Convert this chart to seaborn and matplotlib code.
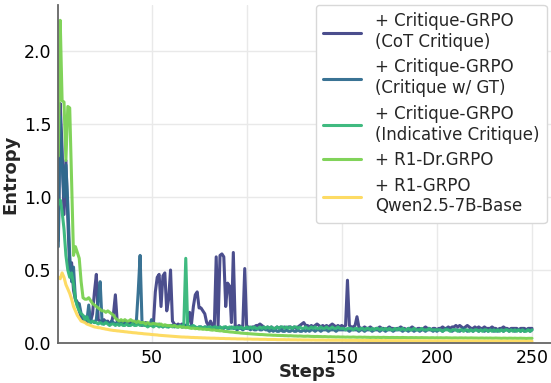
import matplotlib
matplotlib.use("Agg")
import matplotlib.pyplot as plt
import seaborn as sns
import pandas as pd
import numpy as np

steps = list(range(1, 251))

labels = ["+ Critique-GRPO\n(CoT Critique)",
          "+ Critique-GRPO\n(Critique w/ GT)",
          "+ Critique-GRPO\n(Indicative Critique)",
          "+ R1-Dr.GRPO",
          "+ R1-GRPO\nQwen2.5-7B-Base"]

colors = ["#414487", "#2f6b8e", "#35b779", "#7ad151", "#fdd95c"]

cot_critique = [
 0.70,1.64,1.33,0.88,1.25,0.85,0.50,0.55,0.36,0.30,
 0.28,0.22,0.18,0.16,0.15,0.14,0.16,0.15,0.20,0.35,
 0.47,0.16,0.15,0.14,0.16,0.14,0.15,0.13,0.14,0.20,
 0.33,0.14,0.13,0.14,0.13,0.15,0.14,0.13,0.14,0.13,
 0.14,0.13,0.14,0.13,0.12,0.13,0.14,0.12,0.13,0.12,
 0.13,0.35,0.45,0.47,0.25,0.46,0.48,0.22,0.30,0.50,
 0.15,0.13,0.12,0.13,0.12,0.13,0.12,0.12,0.13,0.21,
 0.13,0.25,0.33,0.35,0.24,0.24,0.22,0.20,0.14,0.12,
 0.15,0.12,0.11,0.59,0.12,0.60,0.61,0.59,0.25,0.41,
 0.39,0.14,0.62,0.12,0.11,0.12,0.11,0.12,0.51,0.11,
 0.11,0.10,0.11,0.11,0.12,0.12,0.13,0.12,0.11,0.10,
 0.11,0.10,0.11,0.10,0.10,0.11,0.10,0.11,0.10,0.11,
 0.10,0.11,0.11,0.10,0.11,0.10,0.11,0.12,0.13,0.14,
 0.12,0.12,0.11,0.12,0.11,0.12,0.13,0.12,0.11,0.12,
 0.11,0.12,0.11,0.12,0.13,0.12,0.11,0.12,0.11,0.12,
 0.11,0.12,0.43,0.12,0.11,0.11,0.12,0.18,0.11,0.10,
 0.10,0.11,0.10,0.10,0.11,0.10,0.09,0.10,0.10,0.11,
 0.10,0.10,0.09,0.10,0.11,0.10,0.10,0.09,0.10,0.10,
 0.11,0.10,0.10,0.09,0.10,0.10,0.11,0.10,0.09,0.10,
 0.10,0.09,0.10,0.11,0.10,0.10,0.09,0.10,0.10,0.09,
 0.10,0.10,0.11,0.10,0.10,0.11,0.10,0.11,0.11,0.12,
 0.11,0.12,0.11,0.10,0.11,0.12,0.11,0.10,0.10,0.11,
 0.10,0.11,0.10,0.10,0.11,0.10,0.10,0.10,0.11,0.10,
 0.10,0.09,0.10,0.10,0.11,0.10,0.10,0.09,0.10,0.10,
 0.10,0.10,0.09,0.10,0.10,0.10,0.09,0.10,0.10,0.10]

critique_gt = [
 0.66,1.55,1.22,1.00,1.22,0.95,0.60,0.42,0.52,0.30,
 0.26,0.27,0.20,0.16,0.18,0.15,0.26,0.14,0.15,0.14,
 0.16,0.30,0.42,0.14,0.13,0.15,0.14,0.13,0.15,0.14,
 0.13,0.14,0.13,0.15,0.13,0.14,0.13,0.12,0.13,0.14,
 0.13,0.14,0.35,0.60,0.14,0.13,0.12,0.13,0.12,0.16,
 0.12,0.13,0.12,0.13,0.12,0.11,0.12,0.12,0.11,0.12,
 0.12,0.11,0.12,0.11,0.12,0.11,0.11,0.12,0.11,0.11,
 0.12,0.11,0.11,0.10,0.11,0.11,0.10,0.11,0.11,0.10,
 0.11,0.10,0.11,0.10,0.10,0.11,0.10,0.10,0.11,0.10,
 0.10,0.11,0.10,0.10,0.09,0.10,0.10,0.09,0.10,0.10,
 0.10,0.09,0.10,0.09,0.09,0.10,0.09,0.09,0.10,0.09,
 0.09,0.08,0.09,0.08,0.09,0.08,0.08,0.09,0.08,0.08,
 0.09,0.08,0.08,0.09,0.08,0.08,0.09,0.08,0.08,0.09,
 0.08,0.09,0.08,0.09,0.09,0.08,0.09,0.09,0.08,0.09,
 0.09,0.09,0.08,0.09,0.09,0.09,0.08,0.09,0.09,0.09,
 0.09,0.09,0.09,0.08,0.09,0.09,0.09,0.09,0.08,0.09,
 0.09,0.08,0.09,0.09,0.09,0.08,0.09,0.09,0.09,0.08,
 0.09,0.09,0.08,0.09,0.09,0.09,0.08,0.09,0.09,0.09,
 0.09,0.08,0.09,0.09,0.08,0.09,0.09,0.08,0.09,0.09,
 0.08,0.09,0.09,0.08,0.09,0.09,0.09,0.08,0.09,0.08,
 0.09,0.09,0.08,0.09,0.10,0.09,0.09,0.08,0.09,0.09,
 0.09,0.08,0.09,0.10,0.09,0.08,0.09,0.09,0.08,0.09,
 0.09,0.08,0.09,0.09,0.08,0.09,0.08,0.09,0.09,0.08,
 0.09,0.08,0.09,0.09,0.08,0.09,0.09,0.08,0.09,0.09,
 0.08,0.09,0.09,0.08,0.09,0.08,0.09,0.09,0.08,0.09]

indicative = [
 0.95,0.98,0.90,0.78,0.60,0.50,0.45,0.48,0.40,0.30,
 0.25,0.22,0.20,0.19,0.16,0.18,0.15,0.14,0.15,0.14,
 0.14,0.13,0.14,0.13,0.13,0.14,0.13,0.12,0.13,0.13,
 0.12,0.13,0.12,0.13,0.12,0.12,0.13,0.12,0.12,0.13,
 0.12,0.12,0.13,0.12,0.13,0.12,0.12,0.11,0.12,0.12,
 0.11,0.12,0.12,0.11,0.12,0.11,0.12,0.11,0.11,0.12,
 0.11,0.12,0.11,0.11,0.12,0.11,0.13,0.58,0.12,0.11,
 0.11,0.12,0.11,0.10,0.11,0.11,0.10,0.11,0.10,0.11,
 0.11,0.10,0.11,0.11,0.10,0.11,0.10,0.11,0.11,0.10,
 0.11,0.10,0.11,0.10,0.11,0.10,0.11,0.10,0.10,0.11,
 0.10,0.11,0.10,0.11,0.10,0.10,0.11,0.10,0.11,0.10,
 0.11,0.10,0.11,0.10,0.10,0.11,0.10,0.11,0.11,0.10,
 0.11,0.10,0.11,0.10,0.11,0.11,0.10,0.11,0.10,0.10,
 0.11,0.10,0.10,0.11,0.10,0.11,0.10,0.10,0.11,0.10,
 0.10,0.11,0.10,0.10,0.11,0.10,0.10,0.11,0.10,0.10,
 0.10,0.09,0.10,0.10,0.10,0.09,0.10,0.10,0.09,0.10,
 0.10,0.09,0.10,0.10,0.09,0.10,0.09,0.10,0.10,0.09,
 0.10,0.09,0.10,0.09,0.10,0.09,0.09,0.10,0.09,0.10,
 0.09,0.10,0.09,0.09,0.10,0.09,0.09,0.10,0.09,0.09,
 0.09,0.10,0.09,0.09,0.09,0.10,0.09,0.09,0.09,0.09,
 0.09,0.09,0.08,0.09,0.09,0.09,0.08,0.09,0.09,0.09,
 0.08,0.09,0.09,0.08,0.09,0.09,0.08,0.09,0.08,0.09,
 0.09,0.08,0.09,0.08,0.09,0.09,0.08,0.09,0.08,0.09,
 0.08,0.09,0.08,0.09,0.08,0.09,0.09,0.08,0.09,0.08,
 0.09,0.08,0.09,0.08,0.09,0.08,0.08,0.09,0.08,0.09]

dr_grpo = [
 1.28,2.21,1.66,1.65,1.25,1.62,1.61,1.10,0.60,0.66,
 0.62,0.58,0.42,0.31,0.30,0.30,0.31,0.29,0.27,0.26,
 0.25,0.24,0.23,0.22,0.22,0.21,0.22,0.21,0.20,0.19,
 0.17,0.16,0.15,0.16,0.15,0.16,0.15,0.15,0.16,0.15,
 0.15,0.14,0.15,0.14,0.14,0.14,0.13,0.14,0.13,0.13,
 0.135,0.13,0.13,0.125,0.13,0.12,0.125,0.12,0.12,0.118,
 0.115,0.12,0.113,0.11,0.112,0.108,0.11,0.105,0.107,0.103,
 0.10,0.102,0.098,0.10,0.096,0.097,0.094,0.095,0.092,0.093,
 0.09,0.088,0.09,0.086,0.085,0.083,0.084,0.08,0.079,0.078,
 0.076,0.075,0.074,0.072,0.071,0.07,0.068,0.067,0.066,0.065,
 0.064,0.063,0.062,0.061,0.06,0.059,0.058,0.058,0.057,0.056,
 0.055,0.055,0.054,0.053,0.053,0.052,0.052,0.051,0.051,0.05,
 0.05,0.049,0.05,0.049,0.048,0.048,0.047,0.048,0.047,0.046,
 0.046,0.047,0.046,0.045,0.045,0.044,0.045,0.044,0.044,0.043,
 0.044,0.043,0.042,0.043,0.042,0.042,0.041,0.042,0.041,0.041,
 0.041,0.040,0.041,0.040,0.040,0.041,0.040,0.039,0.040,0.040,
 0.039,0.040,0.039,0.039,0.038,0.039,0.039,0.038,0.039,0.038,
 0.038,0.039,0.038,0.038,0.037,0.038,0.038,0.037,0.038,0.037,
 0.037,0.038,0.037,0.037,0.036,0.037,0.037,0.036,0.037,0.036,
 0.036,0.037,0.036,0.036,0.036,0.035,0.036,0.036,0.035,0.036,
 0.035,0.036,0.035,0.035,0.036,0.035,0.035,0.034,0.035,0.035,
 0.034,0.035,0.035,0.034,0.035,0.034,0.034,0.035,0.034,0.034,
 0.034,0.033,0.034,0.034,0.033,0.034,0.033,0.034,0.033,0.033,
 0.034,0.033,0.033,0.032,0.033,0.033,0.032,0.033,0.033,0.032,
 0.033,0.032,0.032,0.033,0.032,0.032,0.031,0.032,0.032,0.032]

r1_grpo = [
 0.45,0.44,0.48,0.45,0.40,0.37,0.34,0.30,0.25,0.22,
 0.19,0.17,0.15,0.145,0.14,0.13,0.125,0.12,0.115,0.11,
 0.108,0.105,0.104,0.10,0.098,0.095,0.093,0.09,0.088,0.086,
 0.085,0.083,0.082,0.08,0.079,0.077,0.076,0.074,0.073,0.071,
 0.07,0.069,0.067,0.066,0.065,0.063,0.062,0.061,0.06,0.058,
 0.057,0.056,0.055,0.053,0.052,0.051,0.05,0.049,0.048,0.047,
 0.046,0.045,0.044,0.043,0.042,0.041,0.041,0.04,0.04,0.039,
 0.038,0.038,0.037,0.037,0.036,0.036,0.035,0.035,0.034,0.034,
 0.033,0.033,0.033,0.032,0.032,0.031,0.031,0.031,0.03,0.03,
 0.03,0.029,0.029,0.029,0.028,0.028,0.028,0.028,0.027,0.027,
 0.027,0.027,0.026,0.026,0.026,0.026,0.025,0.025,0.025,0.025,
 0.024,0.024,0.024,0.024,0.024,0.023,0.023,0.023,0.023,0.023,
 0.022,0.023,0.022,0.022,0.022,0.022,0.021,0.022,0.021,0.021,
 0.021,0.021,0.021,0.020,0.021,0.020,0.020,0.020,0.020,0.020,
 0.020,0.019,0.020,0.019,0.019,0.019,0.019,0.019,0.019,0.018,
 0.019,0.018,0.018,0.018,0.018,0.018,0.018,0.018,0.017,0.018,
 0.017,0.018,0.017,0.017,0.017,0.017,0.017,0.017,0.017,0.016,
 0.017,0.016,0.017,0.016,0.016,0.016,0.016,0.016,0.016,0.016,
 0.016,0.016,0.015,0.016,0.015,0.016,0.015,0.015,0.015,0.015,
 0.015,0.015,0.015,0.015,0.014,0.015,0.015,0.014,0.015,0.014,
 0.015,0.014,0.014,0.014,0.014,0.014,0.014,0.014,0.014,0.014,
 0.013,0.014,0.013,0.014,0.013,0.013,0.014,0.013,0.013,0.013,
 0.013,0.013,0.013,0.013,0.013,0.012,0.013,0.013,0.012,0.013,
 0.012,0.013,0.012,0.012,0.013,0.012,0.012,0.012,0.012,0.012,
 0.012,0.012,0.012,0.011,0.012,0.012,0.011,0.012,0.012,0.012]

series = [cot_critique, critique_gt, indicative, dr_grpo, r1_grpo]

frames = []
for lab, vals in zip(labels, series):
    frames.append(pd.DataFrame({"Steps": steps, "Entropy": vals, "Method": lab}))
df = pd.concat(frames, ignore_index=True)

sns.set_theme(style="whitegrid")
plt.rcParams["font.family"] = ["DejaVu Sans"]

W, H = 551, 383
fig = plt.figure(figsize=(W / 100, H / 100), dpi=100)
x_left_px = 58.3
px_per_step = 1.9024
xmin, xmax = 1, 262.45
ax_w_px = (xmax - xmin) * px_per_step
ax = fig.add_axes([x_left_px / W, 40 / H, ax_w_px / W, (343 - 5) / H])

sns.lineplot(data=df, x="Steps", y="Entropy", hue="Method",
             palette=dict(zip(labels, colors)), hue_order=labels,
             linewidth=2.2, alpha=0.95, estimator=None, errorbar=None, ax=ax)

ax.set_xlim(xmin, xmax)
ax.set_ylim(0, 2.315)
ax.set_xticks([50, 100, 150, 200, 250])
ax.set_yticks([0.0, 0.5, 1.0, 1.5, 2.0])
ax.set_yticklabels(["0.0", "0.5", "1.0", "1.5", "2.0"])
ax.tick_params(axis="both", labelsize=12.5, length=0, colors="black")
ax.tick_params(axis="x", pad=4)
ax.tick_params(axis="y", pad=5)
ax.grid(True, color="#e9e9e9", linewidth=1.0)
for side in ["top", "right"]:
    ax.spines[side].set_visible(False)
for side in ["left", "bottom"]:
    ax.spines[side].set_visible(True)
    ax.spines[side].set_color("#666666")
    ax.spines[side].set_linewidth(1.3)

ax.set_xlabel("Steps", fontsize=13, fontweight="bold", labelpad=-2.5)
ax.set_ylabel("Entropy", fontsize=13, fontweight="bold", labelpad=3)

handles, labs = ax.get_legend_handles_labels()
leg = ax.legend(handles, labs, loc="upper right",
                bbox_to_anchor=(546.7 / W, 1 - 4.7 / H), bbox_transform=fig.transFigure,
                borderaxespad=0, fontsize=12, frameon=True, framealpha=1,
                edgecolor="#d8d8d8", fancybox=True, handlelength=2.3,
                handletextpad=0.8, labelspacing=0.45, borderpad=0.45)
for ln in leg.get_lines():
    ln.set_linewidth(2.2)

fig.savefig("out.png", dpi=100)
